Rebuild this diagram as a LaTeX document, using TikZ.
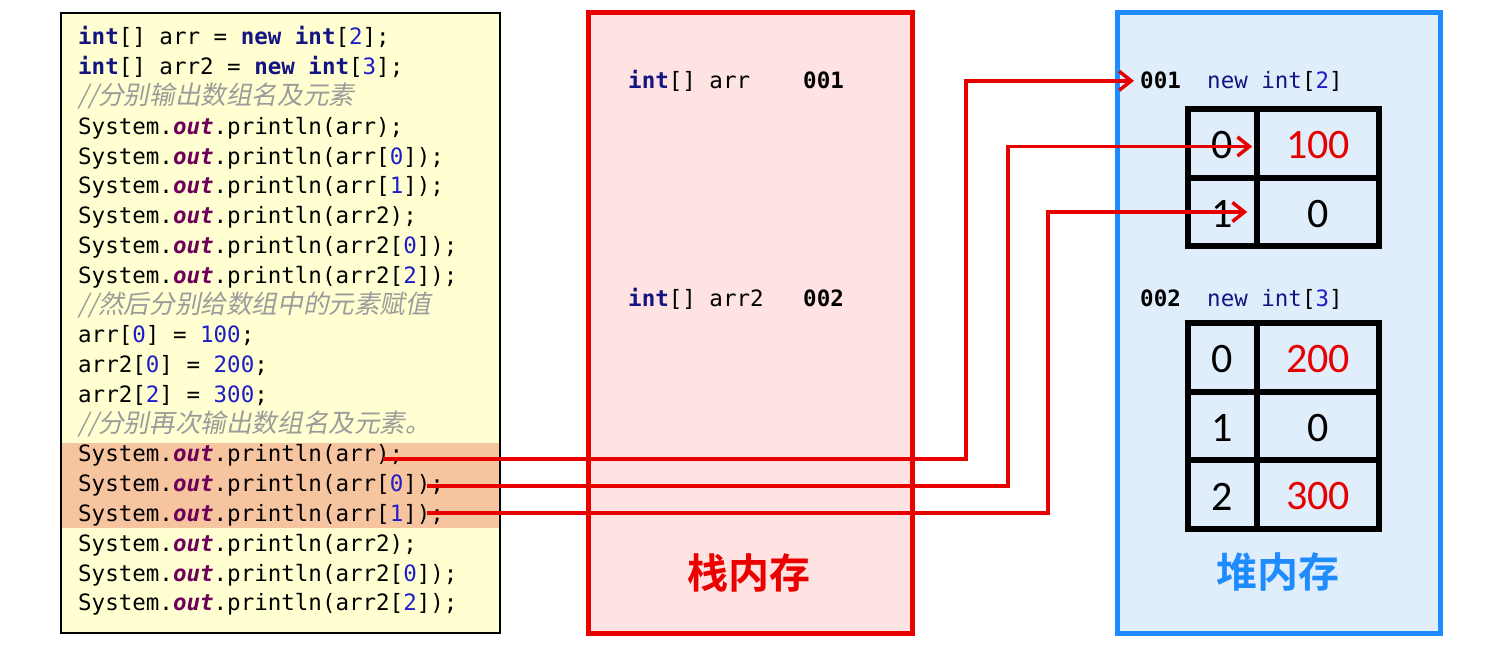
\documentclass[tikz,border=0pt]{standalone}
\usepackage{fontspec}
\usetikzlibrary{arrows.meta}
\setmonofont{DejaVu Sans Mono}
\newfontfamily\cjkit{Noto Sans CJK SC}[FakeSlant=0.2]
\newfontfamily\cjkb{Noto Sans CJK SC}[UprightFont=* Bold]
\newfontfamily\numfont{Carlito}
\definecolor{kwc}{RGB}{20,20,130}
\definecolor{numc}{RGB}{30,30,200}
\definecolor{outc}{RGB}{110,0,90}
\definecolor{cmtc}{RGB}{155,155,155}
\definecolor{panelc}{RGB}{255,255,210}
\definecolor{hlc}{RGB}{247,196,160}
\definecolor{stackfill}{RGB}{255,226,226}
\definecolor{stackred}{RGB}{235,0,0}
\definecolor{heapfill}{RGB}{224,238,252}
\definecolor{heapblue}{RGB}{30,140,255}
\definecolor{arrowred}{RGB}{230,0,0}
\definecolor{valred}{RGB}{230,0,0}
\newcommand\kw[1]{{\bfseries\color{kwc}#1}}
\newcommand\nm[1]{{\color{numc}#1}}
\newcommand\jout{{\bfseries\itshape\color{outc}out}}
\newcommand\cmt[1]{{\cjkit\fontsize{25.6}{30}\selectfont\color{cmtc}#1}}
\tikzset{
  code/.style={anchor=base west, inner sep=0pt, font=\ttfamily\fontsize{22.5}{27}\selectfont},
  panel/.style={draw=black, line width=2pt, fill=panelc},
  stackbox/.style={draw=stackred, line width=5pt, fill=stackfill},
  heapbox/.style={draw=heapblue, line width=5pt, fill=heapfill},
  title/.style={inner sep=0pt, font=\cjkb\fontsize{41}{48}\selectfont},
  cell/.style={draw=black, line width=5.5pt, inner sep=0pt, text height=31pt,
    font=\numfont\fontsize{42}{48}\selectfont},
  icell/.style={cell, minimum width=69pt},
  vcell/.style={cell, minimum width=122pt},
  link/.style={draw=arrowred, line width=3.5pt, -{Straight Barb[length=12pt,width=19pt]}}
}
\begin{document}
\begin{tikzpicture}[x=1pt,y=-1pt]
\useasboundingbox (0,0) rectangle (1494,647);
\fill[white] (0,0) rectangle (1494,647);
% code panel
\draw[panel] (61,13) rectangle (500,633);
\fill[hlc] (62,443) rectangle (499,528);
\node[code] (c1) at (78,45.0) {\kw{int}[] arr = \kw{new} \kw{int}[\nm{2}];};
\node[code] (c2) at (78,74.8) {\kw{int}[] arr2 = \kw{new} \kw{int}[\nm{3}];};
\node[code] (c3) at (78,104.6) {\cmt{//分别输出数组名及元素}};
\node[code] (c4) at (78,134.3) {System.\jout.println(arr);};
\node[code] (c5) at (78,164.1) {System.\jout.println(arr[\nm{0}]);};
\node[code] (c6) at (78,193.9) {System.\jout.println(arr[\nm{1}]);};
\node[code] (c7) at (78,223.7) {System.\jout.println(arr2);};
\node[code] (c8) at (78,253.5) {System.\jout.println(arr2[\nm{0}]);};
\node[code] (c9) at (78,283.2) {System.\jout.println(arr2[\nm{2}]);};
\node[code] (c10) at (78,313.0) {\cmt{//然后分别给数组中的元素赋值}};
\node[code] (c11) at (78,342.8) {arr[\nm{0}] = \nm{100};};
\node[code] (c12) at (78,372.6) {arr2[\nm{0}] = \nm{200};};
\node[code] (c13) at (78,402.4) {arr2[\nm{2}] = \nm{300};};
\node[code] (c14) at (78,432.1) {\cmt{//分别再次输出数组名及元素。}};
\node[code] (c15) at (78,461.9) {System.\jout.println(arr);};
\node[code] (c16) at (78,491.7) {System.\jout.println(arr[\nm{0}]);};
\node[code] (c17) at (78,521.5) {System.\jout.println(arr[\nm{1}]);};
\node[code] (c18) at (78,551.3) {System.\jout.println(arr2);};
\node[code] (c19) at (78,581.0) {System.\jout.println(arr2[\nm{0}]);};
\node[code] (c20) at (78,610.8) {System.\jout.println(arr2[\nm{2}]);};
% stack
\draw[stackbox] (588,13) rectangle (912,633);
\node[code] (sarr) at (628,89) {\kw{int}[] arr};
\node[code] (s001) at (803,89) {\textbf{001}};
\node[code] (sarr2) at (628,306) {\kw{int}[] arr2};
\node[code] (s002) at (803,306) {\textbf{002}};
\node[title, text=stackred] (stitle) at (749,573) {栈内存};
% heap
\draw[heapbox] (1117,13) rectangle (1440,633);
\node[code] (h001) at (1140,89) {\textbf{001}};
\node[code] (hnew1) at (1207,89) {{\color{kwc}new int}[\nm{2}]};
\node[icell] (a1i0) at (1222.5,143.5) [minimum height=69pt] {0};
\node[vcell, text=valred] (a1v0) at (1318,143.5) [minimum height=69pt] {100};
\node[icell] (a1i1) at (1222.5,212) [minimum height=68pt] {1};
\node[vcell] (a1v1) at (1318,212) [minimum height=68pt] {0};
\node[code] (h002) at (1140,306) {\textbf{002}};
\node[code] (hnew2) at (1207,306) {{\color{kwc}new int}[\nm{3}]};
\node[icell] (a2i0) at (1222.5,357.5) [minimum height=69pt] {0};
\node[vcell, text=valred] (a2v0) at (1318,357.5) [minimum height=69pt] {200};
\node[icell] (a2i1) at (1222.5,426) [minimum height=68pt] {1};
\node[vcell] (a2v1) at (1318,426) [minimum height=68pt] {0};
\node[icell] (a2i2) at (1222.5,494.5) [minimum height=69pt] {2};
\node[vcell, text=valred] (a2v2) at (1318,494.5) [minimum height=69pt] {300};
\node[title, text=heapblue] (htitle) at (1278,572) {堆内存};
% connectors
\coordinate (s1) at (383,459);
\coordinate (s2) at (427,486);
\coordinate (s3) at (427,513);
\draw[link] (s1) -- (966,459) |- ([xshift=-6pt]h001.west);
\draw[link] (s2) -- (1008,486) |- ([xshift=-2pt,yshift=-3pt]a1v0.west);
\draw[link] (s3) -- (1048,513) |- ([xshift=-7pt]a1v1.west);
\end{tikzpicture}
\end{document}
